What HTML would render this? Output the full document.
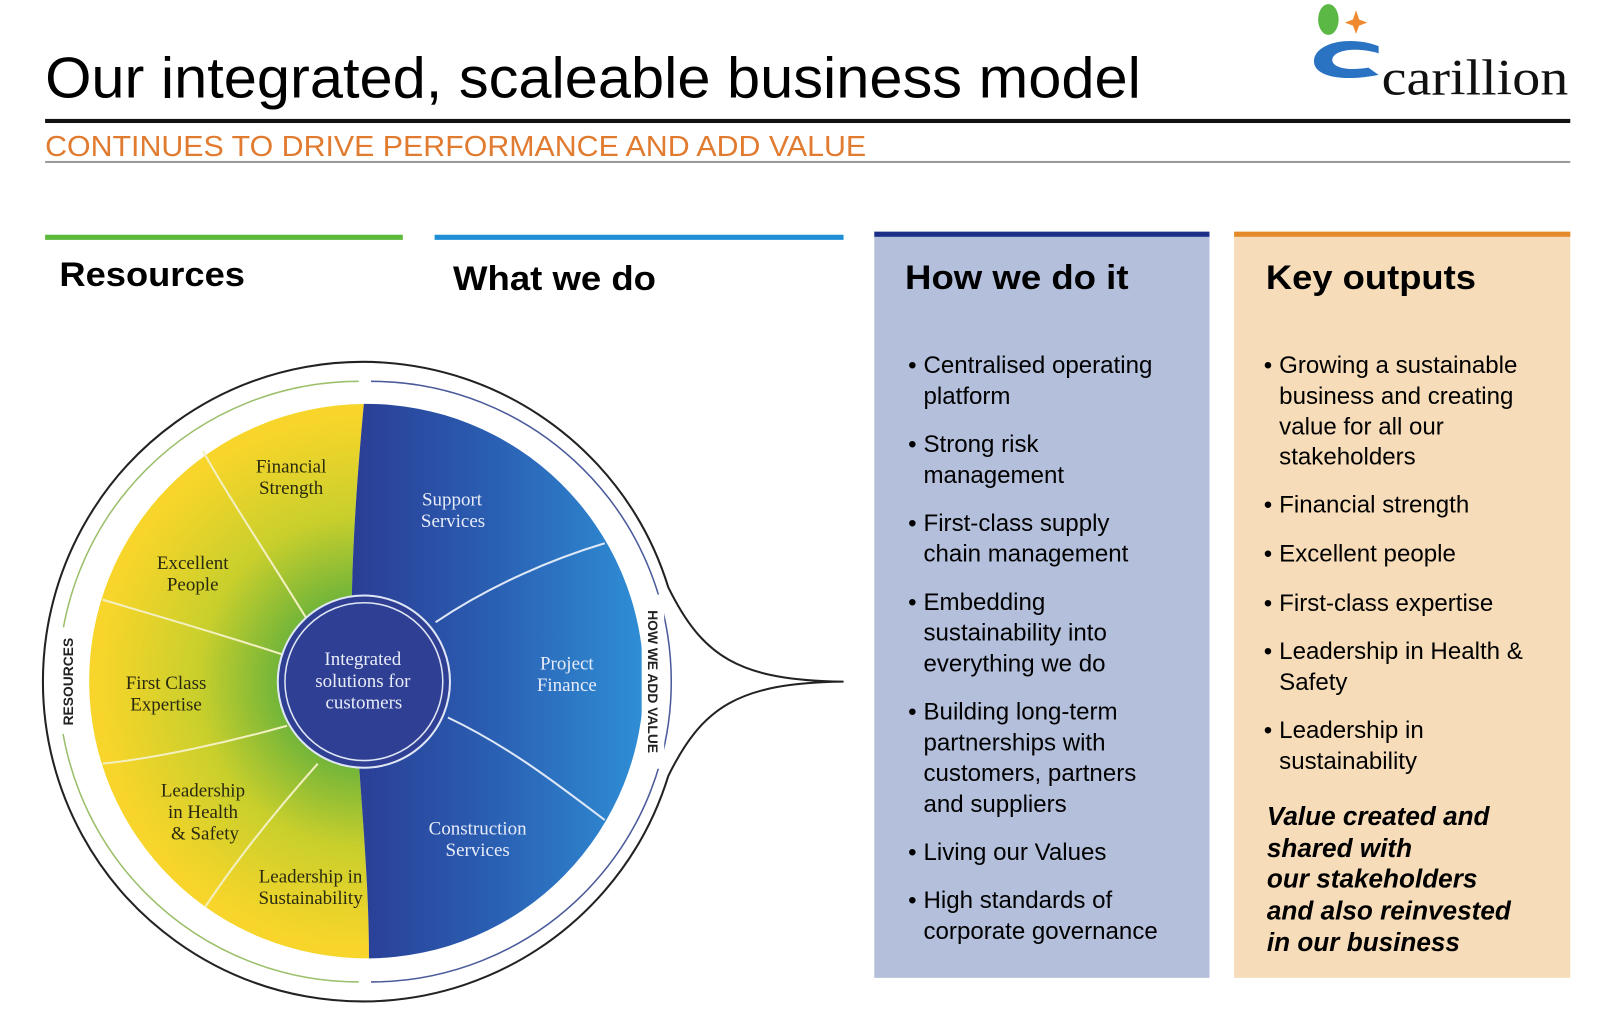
<!DOCTYPE html>
<html><head><meta charset="utf-8"><style>
html,body{margin:0;padding:0;background:#fff;width:1600px;height:1024px;overflow:hidden}
svg{display:block}
.s{font-family:"Liberation Sans",sans-serif}
.r{font-family:"Liberation Serif",serif;font-size:18.5px}
</style></head><body>
<svg width="1600" height="1024" viewBox="0 0 1561 999" xmlns="http://www.w3.org/2000/svg">
<defs>
<radialGradient id="yg" cx="355" cy="665" r="270" gradientUnits="userSpaceOnUse">
<stop offset="0.3" stop-color="#6fb43a"/><stop offset="0.6" stop-color="#c9cf2c"/><stop offset="0.95" stop-color="#f7d52a"/></radialGradient>
<linearGradient id="bg" x1="340" y1="0" x2="630" y2="0" gradientUnits="userSpaceOnUse">
<stop offset="0" stop-color="#2b3c94"/><stop offset="0.45" stop-color="#2a5cb0"/><stop offset="1" stop-color="#2f8fd6"/></linearGradient>
</defs>
<!-- header -->
<text class="s" x="44" y="95" font-size="56" fill="#000" textLength="1069" lengthAdjust="spacingAndGlyphs">Our integrated, scaleable business model</text>
<rect x="44" y="116" width="1488" height="4" fill="#111"/>
<text class="s" x="44" y="152" font-size="28" fill="#e07b30" textLength="801" lengthAdjust="spacingAndGlyphs">CONTINUES TO DRIVE PERFORMANCE AND ADD VALUE</text>
<rect x="44" y="157" width="1488" height="2" fill="#999"/>
<!-- logo -->
<ellipse cx="1296" cy="19" rx="10" ry="15" fill="#5cb845"/>
<path d="M1323 10 L1326 19 L1334 22 L1326 25 L1323 33 L1320 25 L1312 22 L1320 19Z" fill="#f08a30"/>
<path d="M1345 45 C1320 35 1285 40 1282 58 C1280 75 1310 80 1345 73 L1335 66 C1310 70 1298 64 1300 57 C1303 48 1325 46 1345 52Z" fill="#2a72c2"/>
<text x="1348" y="92" font-family="Liberation Serif,serif" font-size="50" fill="#111" textLength="182" lengthAdjust="spacingAndGlyphs">carillion</text>
<!-- column bars -->
<rect x="44" y="229" width="349" height="5" fill="#5cb93a"/>
<rect x="424" y="229" width="399" height="5" fill="#1e8fd6"/>
<rect x="853" y="226" width="327" height="728" fill="#b3bfdb"/>
<rect x="853" y="226" width="327" height="5" fill="#1b2f88"/>
<rect x="1204" y="226" width="328" height="728" fill="#f6dcb8"/>
<rect x="1204" y="226" width="328" height="5" fill="#e58a2b"/>
<g class="s" font-weight="bold" font-size="33" fill="#000">
<text x="58" y="279" textLength="181" lengthAdjust="spacingAndGlyphs">Resources</text>
<text x="442" y="283" textLength="198" lengthAdjust="spacingAndGlyphs">What we do</text>
<text x="883" y="282" textLength="218" lengthAdjust="spacingAndGlyphs">How we do it</text>
<text x="1235" y="282" textLength="205" lengthAdjust="spacingAndGlyphs">Key outputs</text>
</g>
<g class="s" font-size="23.5" fill="#000">
<text x="886" y="364">•</text><text x="901" y="364">Centralised operating</text><text x="901" y="394">platform</text>
<text x="886" y="441">•</text><text x="901" y="441">Strong risk</text><text x="901" y="471">management</text>
<text x="886" y="518">•</text><text x="901" y="518">First-class supply</text><text x="901" y="548">chain management</text>
<text x="886" y="595">•</text><text x="901" y="595">Embedding</text><text x="901" y="625">sustainability into</text><text x="901" y="655">everything we do</text>
<text x="886" y="702">•</text><text x="901" y="702">Building long-term</text><text x="901" y="732">partnerships with</text><text x="901" y="762">customers, partners</text><text x="901" y="792">and suppliers</text>
<text x="886" y="839">•</text><text x="901" y="839">Living our Values</text>
<text x="886" y="886">•</text><text x="901" y="886">High standards of</text><text x="901" y="916">corporate governance</text>
<text x="1233" y="364">•</text><text x="1248" y="364">Growing a sustainable</text><text x="1248" y="394">business and creating</text><text x="1248" y="424">value for all our</text><text x="1248" y="453">stakeholders</text>
<text x="1233" y="500">•</text><text x="1248" y="500">Financial strength</text>
<text x="1233" y="548">•</text><text x="1248" y="548">Excellent people</text>
<text x="1233" y="596">•</text><text x="1248" y="596">First-class expertise</text>
<text x="1233" y="643">•</text><text x="1248" y="643">Leadership in Health &amp;</text><text x="1248" y="673">Safety</text>
<text x="1233" y="720">•</text><text x="1248" y="720">Leadership in</text><text x="1248" y="750">sustainability</text>
</g>
<g class="s" font-size="25.5" font-weight="bold" font-style="italic" fill="#000">
<text x="1236" y="805">Value created and</text><text x="1236" y="836">shared with</text><text x="1236" y="866">our stakeholders</text><text x="1236" y="897">and also reinvested</text><text x="1236" y="928">in our business</text>
</g>
<!-- wheel -->
<path d="M823 665 C720 664 685 640 652 573 A312 312 0 1 0 652 757 C685 690 720 666 823 665Z" fill="none" stroke="#222" stroke-width="2"/>
<path d="M350 372 A293 293 0 0 0 350 958" fill="none" stroke="#9bbf6a" stroke-width="1.5"/>
<path d="M362 372 A293 293 0 0 1 362 958" fill="none" stroke="#4a5a9a" stroke-width="1.5"/>
<path d="M355 394 C345 500 340 600 345 665 C350 760 360 850 360 935 A270 270 0 0 1 355 394Z" fill="url(#yg)"/>
<path d="M355 394 A270 270 0 0 1 360 935 C360 850 350 760 345 665 C340 600 345 500 355 394Z" fill="url(#bg)"/>
<g stroke="#f3f0c0" stroke-width="2" fill="none">
<path d="M300 605 C260 540 220 480 198 440"/>
<path d="M280 640 C220 620 150 600 100 585"/>
<path d="M280 708 C220 725 150 740 100 745"/>
<path d="M310 745 C270 790 230 840 200 885"/>
</g>
<g stroke="#dfe8f7" stroke-width="2" fill="none">
<path d="M425 607 C480 570 540 545 590 530"/>
<path d="M437 700 C500 730 550 770 590 800"/>
</g>
<circle cx="355" cy="665" r="84" fill="#2f3f93" stroke="#dfe6f5" stroke-width="2"/>
<circle cx="355" cy="665" r="77" fill="none" stroke="#dfe6f5" stroke-width="1.5"/>
<g class="r" fill="#e8ecf8" text-anchor="middle">
<text x="354" y="649">Integrated</text><text x="354" y="670">solutions for</text><text x="355" y="691">customers</text>
<text x="441" y="493">Support</text><text x="442" y="514">Services</text>
<text x="553" y="653">Project</text><text x="553" y="674">Finance</text>
<text x="466" y="814">Construction</text><text x="466" y="835">Services</text>
</g>
<g class="r" fill="#2a2a10" text-anchor="middle">
<text x="284" y="461">Financial</text><text x="284" y="482">Strength</text>
<text x="188" y="555">Excellent</text><text x="188" y="576">People</text>
<text x="162" y="672">First Class</text><text x="162" y="693">Expertise</text>
<text x="198" y="777">Leadership</text><text x="198" y="798">in Health</text><text x="200" y="819">&amp; Safety</text>
<text x="303" y="861">Leadership in</text><text x="303" y="882">Sustainability</text>
</g>
<rect x="55" y="612" width="20" height="104" fill="#fff"/>
<text class="s" font-size="13.5" font-weight="bold" fill="#222" text-anchor="middle" transform="translate(71 665) rotate(-90)">RESOURCES</text>
<rect x="626" y="580" width="22" height="170" fill="#fff"/>
<text class="s" font-size="13.5" font-weight="bold" fill="#222" text-anchor="middle" transform="translate(632 665) rotate(90)">HOW WE ADD VALUE</text>
</svg>
</body></html>
